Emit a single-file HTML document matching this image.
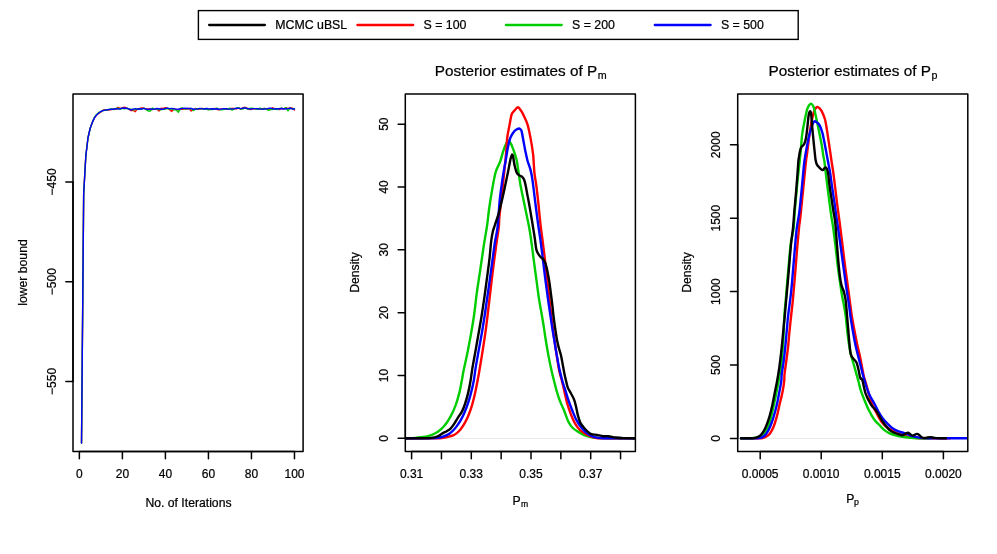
<!DOCTYPE html><html><head><meta charset="utf-8"><title>plot</title><style>html,body{margin:0;padding:0;background:#fff}svg{display:block;will-change:transform}text{font-family:'Liberation Sans',sans-serif;fill:#000;stroke:#000;stroke-width:0.22px}</style></head><body>
<svg width="997" height="554" viewBox="0 0 997 554">
<rect width="997" height="554" fill="#fff"/>
<rect x="198.4" y="10.6" width="599.8" height="28.8" fill="#fff" stroke="#000" stroke-width="1.4"/>
<line x1="209.1" y1="25" x2="264.9" y2="25" stroke="#000000" stroke-width="2.3" stroke-linecap="round"/>
<text x="275.2" y="29.4" font-size="12.35">MCMC uBSL</text>
<line x1="357.4" y1="25" x2="413.2" y2="25" stroke="#ff0000" stroke-width="2.3" stroke-linecap="round"/>
<text x="423.5" y="29.4" font-size="12.35">S = 100</text>
<line x1="505.9" y1="25" x2="561.7" y2="25" stroke="#00cd00" stroke-width="2.3" stroke-linecap="round"/>
<text x="572.0" y="29.4" font-size="12.35">S = 200</text>
<line x1="654.8" y1="25" x2="710.6" y2="25" stroke="#0000ff" stroke-width="2.3" stroke-linecap="round"/>
<text x="720.9" y="29.4" font-size="12.35">S = 500</text>
<g fill="none" stroke-width="1.4" stroke-linejoin="round" stroke-linecap="round">
<path d="M81.52,443.00L83.67,194.00L85.82,156.00L87.97,138.00L90.12,128.50L92.28,122.40L94.43,117.90L96.58,115.00L98.73,113.41L100.88,111.90L103.03,110.20L105.18,109.73L107.33,110.00L109.48,109.71L111.64,109.45L113.79,109.03L115.94,109.14L118.09,107.30L120.24,108.63L122.39,107.66L124.54,107.20L126.69,108.08L128.84,109.16L130.99,110.61L133.14,110.27L135.30,111.70L137.45,108.80L139.60,108.39L141.75,107.88L143.90,108.02L146.05,109.02L148.20,108.97L150.35,108.87L152.50,109.57L154.66,108.79L156.81,109.07L158.96,111.00L161.11,108.31L163.26,108.49L165.41,107.79L167.56,108.47L169.71,109.60L171.86,111.40L174.01,108.51L176.16,109.90L178.32,109.83L180.47,109.36L182.62,109.31L184.77,108.81L186.92,109.01L189.07,108.37L191.22,111.00L193.37,109.76L195.52,108.46L197.68,109.36L199.83,109.04L201.98,108.33L204.13,108.67L206.28,108.81L208.43,109.73L210.58,108.79L212.73,109.20L214.88,108.33L217.03,109.49L219.19,109.74L221.34,108.92L223.49,108.93L225.64,109.39L227.79,109.09L229.94,108.77L232.09,108.39L234.24,108.43L236.39,108.97L238.54,107.88L240.69,109.12L242.85,107.87L245.00,107.30L247.15,108.11L249.30,109.52L251.45,109.25L253.60,108.78L255.75,108.69L257.90,108.96L260.05,109.06L262.20,108.78L264.36,108.56L266.51,108.93L268.66,109.51L270.81,108.86L272.96,107.80L275.11,109.08L277.26,109.06L279.41,109.53L281.56,108.30L283.71,109.11L285.87,107.70L288.02,108.62L290.17,107.60L292.32,108.12L294.47,109.97" stroke="#ff0000"/>
<path d="M81.52,443.00L83.67,194.00L85.82,156.00L87.97,138.00L90.12,128.50L92.28,122.40L94.43,117.30L96.58,114.40L98.73,112.50L100.88,111.54L103.03,110.48L105.18,110.19L107.33,109.81L109.48,109.11L111.64,108.86L113.79,109.50L115.94,108.51L118.09,108.21L120.24,109.38L122.39,108.22L124.54,108.83L126.69,108.23L128.84,109.01L130.99,109.09L133.14,109.71L135.30,109.65L137.45,108.94L139.60,109.24L141.75,109.03L143.90,108.09L146.05,109.55L148.20,111.00L150.35,111.00L152.50,108.03L154.66,109.40L156.81,108.91L158.96,109.56L161.11,109.85L163.26,109.19L165.41,109.21L167.56,108.26L169.71,109.24L171.86,108.85L174.01,109.87L176.16,109.88L178.32,112.30L180.47,108.28L182.62,108.07L184.77,109.17L186.92,108.37L189.07,108.86L191.22,108.42L193.37,110.60L195.52,108.86L197.68,108.64L199.83,108.81L201.98,108.55L204.13,109.34L206.28,109.16L208.43,109.74L210.58,109.43L212.73,109.49L214.88,108.90L217.03,108.20L219.19,109.67L221.34,109.83L223.49,109.54L225.64,108.75L227.79,109.07L229.94,108.28L232.09,110.20L234.24,108.88L236.39,108.22L238.54,107.69L240.69,109.02L242.85,109.17L245.00,107.46L247.15,108.99L249.30,108.54L251.45,108.25L253.60,108.40L255.75,109.15L257.90,109.36L260.05,108.08L262.20,109.33L264.36,108.27L266.51,109.30L268.66,110.30L270.81,109.33L272.96,109.43L275.11,108.52L277.26,109.55L279.41,108.45L281.56,108.09L283.71,108.85L285.87,107.65L288.02,110.90L290.17,108.08L292.32,108.81L294.47,108.67" stroke="#00cd00"/>
<path d="M81.52,443.00L83.67,194.00L85.82,156.00L87.97,138.00L90.12,128.50L92.28,122.40L94.43,117.90L96.58,115.00L98.73,113.00L100.88,111.50L103.03,110.60L105.18,110.10L107.33,109.70L109.48,109.50L111.64,109.30L113.79,109.20L115.94,108.62L118.09,109.00L120.24,108.72L122.39,108.06L124.54,108.23L126.69,108.23L128.84,108.90L130.99,109.98L133.14,109.10L135.30,108.56L137.45,109.20L139.60,108.75L141.75,108.95L143.90,108.42L146.05,109.04L148.20,109.50L150.35,108.84L152.50,109.27L154.66,109.11L156.81,108.53L158.96,108.74L161.11,109.20L163.26,109.20L165.41,108.34L167.56,108.19L169.71,108.63L171.86,108.53L174.01,108.84L176.16,109.14L178.32,109.29L180.47,108.70L182.62,108.34L184.77,108.08L186.92,108.45L189.07,108.45L191.22,108.35L193.37,109.23L195.52,109.12L197.68,109.03L199.83,108.37L201.98,108.85L204.13,108.94L206.28,108.49L208.43,108.81L210.58,108.98L212.73,108.80L214.88,108.98L217.03,108.73L219.19,109.32L221.34,109.14L223.49,108.63L225.64,108.71L227.79,109.03L229.94,109.11L232.09,108.90L234.24,108.83L236.39,108.19L238.54,108.25L240.69,108.65L242.85,108.22L245.00,107.91L247.15,108.49L249.30,108.88L251.45,109.03L253.60,108.66L255.75,108.61L257.90,108.70L260.05,109.16L262.20,109.14L264.36,108.99L266.51,108.90L268.66,108.31L270.81,108.23L272.96,108.75L275.11,108.94L277.26,108.73L279.41,108.70L281.56,108.56L283.71,108.68L285.87,108.93L288.02,108.59L290.17,108.28L292.32,108.94L294.47,109.05" stroke="#0000ff"/>
</g>
<rect x="73.0" y="94.0" width="230.1" height="357.4" fill="none" stroke="#000" stroke-width="1.5" stroke-linejoin="round"/>
<path d="M79.37,451.40H294.47" stroke="#000" stroke-width="1.5" fill="none"/>
<path d="M79.37,451.40v7.4" stroke="#000" stroke-width="1.5" stroke-linecap="round" fill="none"/>
<path d="M122.39,451.40v7.4" stroke="#000" stroke-width="1.5" stroke-linecap="round" fill="none"/>
<path d="M165.41,451.40v7.4" stroke="#000" stroke-width="1.5" stroke-linecap="round" fill="none"/>
<path d="M208.43,451.40v7.4" stroke="#000" stroke-width="1.5" stroke-linecap="round" fill="none"/>
<path d="M251.45,451.40v7.4" stroke="#000" stroke-width="1.5" stroke-linecap="round" fill="none"/>
<path d="M294.47,451.40v7.4" stroke="#000" stroke-width="1.5" stroke-linecap="round" fill="none"/>
<text x="79.37" y="478.25" font-size="12" text-anchor="middle">0</text>
<text x="122.39" y="478.25" font-size="12" text-anchor="middle">20</text>
<text x="165.41" y="478.25" font-size="12" text-anchor="middle">40</text>
<text x="208.43" y="478.25" font-size="12" text-anchor="middle">60</text>
<text x="251.45" y="478.25" font-size="12" text-anchor="middle">80</text>
<text x="294.47" y="478.25" font-size="12" text-anchor="middle">100</text>
<path d="M73.00,181.95V381.46" stroke="#000" stroke-width="1.5" fill="none"/>
<path d="M73.00,181.95h-7.2" stroke="#000" stroke-width="1.5" stroke-linecap="round" fill="none"/>
<text transform="translate(55.80,181.95) rotate(-90)" font-size="12" text-anchor="middle">−450</text>
<path d="M73.00,281.70h-7.2" stroke="#000" stroke-width="1.5" stroke-linecap="round" fill="none"/>
<text transform="translate(55.80,281.70) rotate(-90)" font-size="12" text-anchor="middle">−500</text>
<path d="M73.00,381.46h-7.2" stroke="#000" stroke-width="1.5" stroke-linecap="round" fill="none"/>
<text transform="translate(55.80,381.46) rotate(-90)" font-size="12" text-anchor="middle">−550</text>
<text x="188.5" y="506.6" font-size="12.2" text-anchor="middle">No. of Iterations</text>
<text transform="translate(27,272.5) rotate(-90)" font-size="12.2" text-anchor="middle">lower bound</text>
<path d="M405.3,438.5H635.4" stroke="#d3d3d3" stroke-width="0.5" fill="none"/>
<clipPath id="cm"><rect x="405.3" y="94.0" width="230.1" height="357.4"/></clipPath>
<g fill="none" stroke-width="2.4" stroke-linejoin="round" stroke-linecap="round" clip-path="url(#cm)">
<path d="M405.50,438.30C407.12,438.23 411.90,438.15 415.20,437.90C418.50,437.65 422.57,437.30 425.30,436.80C428.03,436.30 429.50,435.73 431.60,434.90C433.70,434.07 435.80,433.27 437.90,431.80C440.00,430.33 442.10,428.63 444.20,426.10C446.30,423.57 448.60,420.07 450.50,416.60C452.40,413.13 454.12,409.30 455.60,405.30C457.08,401.30 458.35,396.82 459.40,392.60C460.45,388.38 461.20,383.67 461.90,380.00C462.60,376.33 462.68,375.12 463.60,370.60C464.52,366.08 466.13,359.22 467.40,352.90C468.67,346.58 470.08,339.02 471.20,332.70C472.32,326.38 473.15,321.75 474.10,315.00C475.05,308.25 475.88,299.65 476.90,292.20C477.92,284.75 479.08,277.87 480.20,270.30C481.32,262.73 482.47,254.18 483.60,246.80C484.73,239.42 486.12,232.05 487.00,226.00C487.88,219.95 488.27,215.18 488.90,210.50C489.53,205.82 490.05,202.53 490.80,197.90C491.55,193.27 492.55,187.12 493.40,182.70C494.25,178.28 494.77,174.93 495.90,171.40C497.03,167.87 498.95,164.97 500.20,161.50C501.45,158.03 502.40,153.60 503.40,150.60C504.40,147.60 505.37,145.18 506.20,143.50C507.03,141.82 507.67,140.55 508.40,140.50C509.13,140.45 509.87,141.93 510.60,143.20C511.33,144.47 512.00,146.03 512.80,148.10C513.60,150.17 514.70,153.28 515.40,155.60C516.10,157.92 516.47,159.17 517.00,162.00C517.53,164.83 518.02,168.72 518.60,172.60C519.18,176.48 519.75,181.08 520.50,185.30C521.25,189.52 522.15,193.27 523.10,197.90C524.05,202.53 525.20,208.25 526.20,213.10C527.20,217.95 528.23,222.22 529.10,227.00C529.97,231.78 530.58,235.98 531.40,241.80C532.22,247.62 533.15,255.47 534.00,261.90C534.85,268.33 535.67,274.23 536.50,280.40C537.33,286.57 538.08,292.97 539.00,298.90C539.92,304.83 541.18,311.22 542.00,316.00C542.82,320.78 543.27,323.55 543.90,327.60C544.53,331.65 545.05,335.67 545.80,340.30C546.55,344.93 547.45,350.35 548.40,355.40C549.35,360.45 550.53,366.25 551.50,370.60C552.47,374.95 553.38,378.25 554.20,381.50C555.02,384.75 555.50,386.98 556.40,390.10C557.30,393.22 558.33,396.83 559.60,400.20C560.87,403.57 562.53,406.72 564.00,410.30C565.47,413.88 566.93,418.75 568.40,421.70C569.87,424.65 571.00,426.22 572.80,428.00C574.60,429.78 577.08,431.13 579.20,432.40C581.32,433.67 583.18,434.75 585.50,435.60C587.82,436.45 590.58,437.08 593.10,437.50C595.62,437.92 596.95,437.97 600.60,438.10C604.25,438.23 609.18,438.27 615.00,438.30C620.82,438.33 632.08,438.30 635.50,438.30" stroke="#00cd00"/>
<path d="M405.50,438.30C410.48,438.30 429.17,438.37 435.40,438.30C441.63,438.23 440.80,438.15 442.90,437.90C445.00,437.65 446.30,437.23 448.00,436.80C449.70,436.37 451.63,435.92 453.10,435.30C454.57,434.68 455.55,434.10 456.80,433.10C458.05,432.10 459.33,430.88 460.60,429.30C461.87,427.72 463.13,425.82 464.40,423.60C465.67,421.38 466.93,419.05 468.20,416.00C469.47,412.95 470.83,409.20 472.00,405.30C473.17,401.40 474.28,396.65 475.20,392.60C476.12,388.55 476.80,384.67 477.50,381.00C478.20,377.33 478.57,375.50 479.40,370.60C480.23,365.70 481.50,357.92 482.50,351.60C483.50,345.28 484.57,338.63 485.40,332.70C486.23,326.77 486.68,322.75 487.50,316.00C488.32,309.25 489.33,300.37 490.30,292.20C491.27,284.03 492.32,274.85 493.30,267.00C494.28,259.15 495.28,251.77 496.20,245.10C497.12,238.43 498.28,231.52 498.80,227.00C499.32,222.48 498.83,223.00 499.30,218.00C499.77,213.00 500.88,203.67 501.60,197.00C502.32,190.33 502.95,184.17 503.60,178.00C504.25,171.83 505.05,164.67 505.50,160.00C505.95,155.33 506.02,153.68 506.30,150.00C506.58,146.32 506.63,142.22 507.20,137.90C507.77,133.58 508.97,128.00 509.70,124.10C510.43,120.20 510.80,116.77 511.60,114.50C512.40,112.23 513.45,111.70 514.50,110.50C515.55,109.30 516.90,107.38 517.90,107.30C518.90,107.22 519.67,108.90 520.50,110.00C521.33,111.10 521.75,111.55 522.90,113.90C524.05,116.25 526.13,120.10 527.40,124.10C528.67,128.10 529.55,132.85 530.50,137.90C531.45,142.95 532.45,148.62 533.10,154.40C533.75,160.18 533.87,167.45 534.40,172.60C534.93,177.75 535.67,180.45 536.30,185.30C536.93,190.15 537.63,196.45 538.20,201.70C538.77,206.95 539.25,212.42 539.70,216.80C540.15,221.18 540.47,224.40 540.90,228.00C541.33,231.60 541.72,233.87 542.30,238.40C542.88,242.93 543.70,249.32 544.40,255.20C545.10,261.08 545.80,267.53 546.50,273.70C547.20,279.87 547.80,285.15 548.60,292.20C549.40,299.25 550.47,309.03 551.30,316.00C552.13,322.97 552.78,328.00 553.60,334.00C554.42,340.00 555.27,345.90 556.20,352.00C557.13,358.10 558.28,365.93 559.20,370.60C560.12,375.27 560.83,376.53 561.70,380.00C562.57,383.47 563.52,387.62 564.40,391.40C565.28,395.18 565.93,398.92 567.00,402.70C568.07,406.48 569.45,410.62 570.80,414.10C572.15,417.58 573.50,420.87 575.10,423.60C576.70,426.33 578.47,428.67 580.40,430.50C582.33,432.33 584.38,433.43 586.70,434.60C589.02,435.77 591.55,436.88 594.30,437.50C597.05,438.12 596.33,438.17 603.20,438.30C610.07,438.43 630.12,438.30 635.50,438.30" stroke="#ff0000"/>
<path d="M405.50,438.30C408.80,438.30 419.90,438.40 425.30,438.30C430.70,438.20 434.75,438.05 437.90,437.70C441.05,437.35 442.30,436.87 444.20,436.20C446.10,435.53 447.82,434.65 449.30,433.70C450.78,432.75 451.85,431.77 453.10,430.50C454.35,429.23 455.55,427.78 456.80,426.10C458.05,424.42 459.33,422.62 460.60,420.40C461.87,418.18 463.13,415.75 464.40,412.80C465.67,409.85 467.03,406.27 468.20,402.70C469.37,399.13 470.45,395.18 471.40,391.40C472.35,387.62 473.20,383.88 473.90,380.00C474.60,376.12 474.80,373.03 475.60,368.10C476.40,363.17 477.65,356.30 478.70,350.40C479.75,344.50 480.92,338.43 481.90,332.70C482.88,326.97 483.90,320.52 484.60,316.00C485.30,311.48 485.37,310.70 486.10,305.60C486.83,300.50 488.02,292.40 489.00,285.40C489.98,278.40 491.00,270.87 492.00,263.60C493.00,256.33 494.07,247.90 495.00,241.80C495.93,235.70 496.82,233.90 497.60,227.00C498.38,220.10 499.03,207.35 499.70,200.40C500.37,193.45 500.97,189.93 501.60,185.30C502.23,180.67 502.83,176.65 503.50,172.60C504.17,168.55 504.88,165.08 505.60,161.00C506.32,156.92 507.02,151.95 507.80,148.10C508.58,144.25 509.25,140.65 510.30,137.90C511.35,135.15 512.98,133.03 514.10,131.60C515.22,130.17 516.15,129.82 517.00,129.30C517.85,128.78 518.60,128.47 519.20,128.50C519.80,128.53 520.18,128.98 520.60,129.50C521.02,130.02 521.20,129.57 521.70,131.60C522.20,133.63 522.97,138.33 523.60,141.70C524.23,145.07 524.83,148.58 525.50,151.80C526.17,155.02 526.75,157.95 527.60,161.00C528.45,164.05 529.78,166.90 530.60,170.10C531.42,173.30 531.87,175.98 532.50,180.20C533.13,184.42 533.77,190.35 534.40,195.40C535.03,200.45 535.62,205.23 536.30,210.50C536.98,215.77 537.77,221.78 538.50,227.00C539.23,232.22 539.92,235.98 540.70,241.80C541.48,247.62 542.37,255.18 543.20,261.90C544.03,268.62 544.87,275.65 545.70,282.10C546.53,288.55 547.40,294.95 548.20,300.60C549.00,306.25 549.83,311.50 550.50,316.00C551.17,320.50 551.57,323.55 552.20,327.60C552.83,331.65 553.53,335.67 554.30,340.30C555.07,344.93 555.90,350.35 556.80,355.40C557.70,360.45 558.75,366.25 559.70,370.60C560.65,374.95 561.57,378.25 562.50,381.50C563.43,384.75 564.32,386.98 565.30,390.10C566.28,393.22 567.25,396.83 568.40,400.20C569.55,403.57 570.83,406.93 572.20,410.30C573.57,413.67 575.02,417.45 576.60,420.40C578.18,423.35 580.02,425.88 581.70,428.00C583.38,430.12 584.80,431.67 586.70,433.10C588.60,434.53 590.78,435.77 593.10,436.60C595.42,437.43 596.95,437.82 600.60,438.10C604.25,438.38 609.18,438.27 615.00,438.30C620.82,438.33 632.08,438.30 635.50,438.30" stroke="#0000ff"/>
<path d="M405.50,438.30C407.73,438.30 414.55,438.37 418.90,438.30C423.25,438.23 428.43,438.25 431.60,437.90C434.77,437.55 436.02,437.00 437.90,436.20C439.78,435.40 441.43,433.93 442.90,433.10C444.37,432.27 445.43,431.95 446.70,431.20C447.97,430.45 449.23,429.87 450.50,428.60C451.77,427.33 453.03,425.48 454.30,423.60C455.57,421.72 456.83,419.30 458.10,417.30C459.37,415.30 460.75,413.82 461.90,411.60C463.05,409.38 463.95,407.17 465.00,404.00C466.05,400.83 467.28,396.43 468.20,392.60C469.12,388.77 469.80,385.08 470.50,381.00C471.20,376.92 471.55,373.20 472.40,368.10C473.25,363.00 474.55,356.30 475.60,350.40C476.65,344.50 477.70,338.43 478.70,332.70C479.70,326.97 480.65,321.92 481.60,316.00C482.55,310.08 483.52,303.42 484.40,297.20C485.28,290.98 486.05,285.13 486.90,278.70C487.75,272.27 488.80,264.75 489.50,258.60C490.20,252.45 490.55,246.28 491.10,241.80C491.65,237.32 492.22,234.33 492.80,231.70C493.38,229.07 494.08,227.63 494.60,226.00C495.12,224.37 495.27,223.85 495.90,221.90C496.53,219.95 497.45,217.67 498.40,214.30C499.35,210.93 500.55,206.12 501.60,201.70C502.65,197.28 503.65,192.65 504.70,187.80C505.75,182.95 507.00,177.07 507.90,172.60C508.80,168.13 509.52,163.77 510.10,161.00C510.68,158.23 511.05,157.10 511.40,156.00C511.75,154.90 511.93,154.40 512.20,154.40C512.47,154.40 512.73,154.90 513.00,156.00C513.27,157.10 513.50,159.28 513.80,161.00C514.10,162.72 514.32,164.37 514.80,166.30C515.28,168.23 515.95,171.08 516.70,172.60C517.45,174.12 518.35,174.65 519.30,175.40C520.25,176.15 521.57,176.30 522.40,177.10C523.23,177.90 523.77,178.83 524.30,180.20C524.83,181.57 525.07,182.77 525.60,185.30C526.13,187.83 526.87,192.03 527.50,195.40C528.13,198.77 528.77,201.93 529.40,205.50C530.03,209.07 530.70,213.22 531.30,216.80C531.90,220.38 532.42,223.40 533.00,227.00C533.58,230.60 534.22,234.53 534.80,238.40C535.38,242.27 535.67,247.25 536.50,250.20C537.33,253.15 538.55,254.42 539.80,256.10C541.05,257.78 542.88,258.48 544.00,260.30C545.12,262.12 545.65,263.65 546.50,267.00C547.35,270.35 548.40,276.20 549.10,280.40C549.80,284.60 550.15,288.00 550.70,292.20C551.25,296.40 551.93,301.63 552.40,305.60C552.87,309.57 553.12,312.75 553.50,316.00C553.88,319.25 554.18,321.48 554.70,325.10C555.22,328.72 555.97,334.12 556.60,337.70C557.23,341.28 557.77,343.65 558.50,346.60C559.23,349.55 560.27,352.25 561.00,355.40C561.73,358.55 562.27,362.13 562.90,365.50C563.53,368.87 564.25,372.93 564.80,375.60C565.35,378.27 565.70,379.50 566.20,381.50C566.70,383.50 567.02,385.63 567.80,387.60C568.58,389.57 569.85,391.30 570.90,393.30C571.95,395.30 573.25,397.40 574.10,399.60C574.95,401.80 575.37,403.87 576.00,406.50C576.63,409.13 577.17,412.67 577.90,415.40C578.63,418.13 579.35,420.80 580.40,422.90C581.45,425.00 582.52,426.20 584.20,428.00C585.88,429.80 588.40,432.55 590.50,433.70C592.60,434.85 594.68,434.48 596.80,434.90C598.92,435.32 601.30,435.98 603.20,436.20C605.10,436.42 606.10,435.98 608.20,436.20C610.30,436.42 613.27,437.18 615.80,437.50C618.33,437.82 620.12,437.98 623.40,438.10C626.68,438.22 633.48,438.18 635.50,438.20" stroke="#000000"/>
</g>
<rect x="405.3" y="94.0" width="230.1" height="357.4" fill="none" stroke="#000" stroke-width="1.5" stroke-linejoin="round"/>
<path d="M411.60,451.40H620.55" stroke="#000" stroke-width="1.5" fill="none"/>
<path d="M411.60,451.40v7.4" stroke="#000" stroke-width="1.5" stroke-linecap="round" fill="none"/>
<path d="M441.45,451.40v7.4" stroke="#000" stroke-width="1.5" stroke-linecap="round" fill="none"/>
<path d="M471.30,451.40v7.4" stroke="#000" stroke-width="1.5" stroke-linecap="round" fill="none"/>
<path d="M501.15,451.40v7.4" stroke="#000" stroke-width="1.5" stroke-linecap="round" fill="none"/>
<path d="M531.00,451.40v7.4" stroke="#000" stroke-width="1.5" stroke-linecap="round" fill="none"/>
<path d="M560.85,451.40v7.4" stroke="#000" stroke-width="1.5" stroke-linecap="round" fill="none"/>
<path d="M590.70,451.40v7.4" stroke="#000" stroke-width="1.5" stroke-linecap="round" fill="none"/>
<path d="M620.55,451.40v7.4" stroke="#000" stroke-width="1.5" stroke-linecap="round" fill="none"/>
<text x="411.60" y="478.25" font-size="12" text-anchor="middle">0.31</text>
<text x="471.30" y="478.25" font-size="12" text-anchor="middle">0.33</text>
<text x="531.00" y="478.25" font-size="12" text-anchor="middle">0.35</text>
<text x="590.70" y="478.25" font-size="12" text-anchor="middle">0.37</text>
<path d="M405.33,124.20V438.35" stroke="#000" stroke-width="1.5" fill="none"/>
<path d="M405.33,438.35h-7.2" stroke="#000" stroke-width="1.5" stroke-linecap="round" fill="none"/>
<text transform="translate(388.13,438.35) rotate(-90)" font-size="12" text-anchor="middle">0</text>
<path d="M405.33,375.52h-7.2" stroke="#000" stroke-width="1.5" stroke-linecap="round" fill="none"/>
<text transform="translate(388.13,375.52) rotate(-90)" font-size="12" text-anchor="middle">10</text>
<path d="M405.33,312.69h-7.2" stroke="#000" stroke-width="1.5" stroke-linecap="round" fill="none"/>
<text transform="translate(388.13,312.69) rotate(-90)" font-size="12" text-anchor="middle">20</text>
<path d="M405.33,249.86h-7.2" stroke="#000" stroke-width="1.5" stroke-linecap="round" fill="none"/>
<text transform="translate(388.13,249.86) rotate(-90)" font-size="12" text-anchor="middle">30</text>
<path d="M405.33,187.03h-7.2" stroke="#000" stroke-width="1.5" stroke-linecap="round" fill="none"/>
<text transform="translate(388.13,187.03) rotate(-90)" font-size="12" text-anchor="middle">40</text>
<path d="M405.33,124.20h-7.2" stroke="#000" stroke-width="1.5" stroke-linecap="round" fill="none"/>
<text transform="translate(388.13,124.20) rotate(-90)" font-size="12" text-anchor="middle">50</text>
<text x="520.7" y="76.3" font-size="15.3" text-anchor="middle">Posterior estimates of P<tspan font-size="10.7" dy="3" dx="0.5">m</tspan></text>
<text x="520.3" y="504.6" font-size="12.2" text-anchor="middle">P<tspan font-size="8.6" dy="2.1" dx="0.4">m</tspan></text>
<text transform="translate(359,272.5) rotate(-90)" font-size="12.2" text-anchor="middle">Density</text>
<path d="M737.7,438.5H967.7" stroke="#d3d3d3" stroke-width="0.5" fill="none"/>
<clipPath id="cr"><rect x="737.7" y="94.0" width="230.1" height="357.4"/></clipPath>
<g fill="none" stroke-width="2.4" stroke-linejoin="round" stroke-linecap="round" clip-path="url(#cr)">
<path d="M741.00,438.30C743.33,438.30 751.58,438.32 755.00,438.30C758.42,438.28 759.67,438.45 761.50,438.20C763.33,437.95 764.62,437.55 766.00,436.80C767.38,436.05 768.53,435.38 769.80,433.70C771.07,432.02 772.43,429.55 773.60,426.70C774.77,423.85 775.83,420.17 776.80,416.60C777.77,413.03 778.47,409.30 779.40,405.30C780.33,401.30 781.60,396.65 782.40,392.60C783.20,388.55 783.85,384.03 784.20,381.00C784.55,377.97 784.17,377.62 784.50,374.40C784.83,371.18 785.60,366.33 786.20,361.70C786.80,357.07 787.53,351.85 788.10,346.60C788.67,341.35 789.10,335.30 789.60,330.20C790.10,325.10 790.57,320.93 791.10,316.00C791.63,311.07 792.15,307.37 792.80,300.60C793.45,293.83 794.30,283.80 795.00,275.40C795.70,267.00 796.33,258.10 797.00,250.20C797.67,242.30 798.43,233.57 799.00,228.00C799.57,222.43 799.85,221.82 800.40,216.80C800.95,211.78 801.67,204.22 802.30,197.90C802.93,191.58 803.60,184.88 804.20,178.90C804.80,172.92 805.38,166.52 805.90,162.00C806.42,157.48 806.75,156.02 807.30,151.80C807.85,147.58 808.57,141.32 809.20,136.70C809.83,132.08 810.37,128.10 811.10,124.10C811.83,120.10 812.87,115.30 813.60,112.70C814.33,110.10 814.87,109.45 815.50,108.50C816.13,107.55 816.72,107.03 817.40,107.00C818.08,106.97 818.87,107.57 819.60,108.30C820.33,109.03 820.92,109.62 821.80,111.40C822.68,113.18 824.07,116.05 824.90,119.00C825.73,121.95 826.17,125.32 826.80,129.10C827.43,132.88 828.10,137.70 828.70,141.70C829.30,145.70 829.88,149.55 830.40,153.10C830.92,156.65 831.32,159.75 831.80,163.00C832.28,166.25 832.73,168.47 833.30,172.60C833.87,176.73 834.58,182.75 835.20,187.80C835.82,192.85 836.38,198.07 837.00,202.90C837.62,207.73 838.37,212.78 838.90,216.80C839.43,220.82 839.57,222.00 840.20,227.00C840.83,232.00 841.83,239.85 842.70,246.80C843.57,253.75 844.48,261.70 845.40,268.70C846.32,275.70 847.37,282.65 848.20,288.80C849.03,294.95 849.80,301.07 850.40,305.60C851.00,310.13 851.22,312.33 851.80,316.00C852.38,319.67 853.02,322.92 853.90,327.60C854.78,332.28 856.03,339.05 857.10,344.10C858.17,349.15 859.25,352.85 860.30,357.90C861.35,362.95 862.55,370.47 863.40,374.40C864.25,378.33 864.55,378.47 865.40,381.50C866.25,384.53 867.50,389.07 868.50,392.60C869.50,396.13 870.15,399.47 871.40,402.70C872.65,405.93 874.40,408.93 876.00,412.00C877.60,415.07 879.33,418.68 881.00,421.10C882.67,423.52 883.80,424.72 886.00,426.50C888.20,428.28 891.35,430.33 894.20,431.80C897.05,433.27 900.37,434.42 903.10,435.30C905.83,436.18 907.67,436.60 910.60,437.10C913.53,437.60 914.13,438.10 920.70,438.30C927.27,438.50 945.12,438.30 950.00,438.30" stroke="#ff0000"/>
<path d="M741.00,438.30C742.95,438.27 749.78,438.35 752.70,438.10C755.62,437.85 756.58,437.63 758.50,436.80C760.42,435.97 762.52,434.98 764.20,433.10C765.88,431.22 767.23,429.08 768.60,425.50C769.97,421.92 771.23,416.45 772.40,411.60C773.57,406.75 774.57,401.50 775.60,396.40C776.63,391.30 777.70,386.07 778.60,381.00C779.50,375.93 780.33,371.17 781.00,366.00C781.67,360.83 782.17,355.33 782.60,350.00C783.03,344.67 783.32,339.67 783.60,334.00C783.88,328.33 783.95,321.57 784.30,316.00C784.65,310.43 785.22,306.25 785.70,300.60C786.18,294.95 786.65,288.55 787.20,282.10C787.75,275.65 788.40,268.33 789.00,261.90C789.60,255.47 790.03,249.15 790.80,243.50C791.57,237.85 792.95,233.25 793.60,228.00C794.25,222.75 794.23,217.83 794.70,212.00C795.17,206.17 795.85,198.93 796.40,193.00C796.95,187.07 797.43,181.90 798.00,176.40C798.57,170.90 799.33,164.40 799.80,160.00C800.27,155.60 800.40,154.30 800.80,150.00C801.20,145.70 801.55,139.15 802.20,134.20C802.85,129.25 803.85,124.52 804.70,120.30C805.55,116.08 806.53,111.45 807.30,108.90C808.07,106.35 808.67,105.88 809.30,105.00C809.93,104.12 810.52,103.55 811.10,103.60C811.68,103.65 812.28,104.42 812.80,105.30C813.32,106.18 813.55,106.40 814.20,108.90C814.85,111.40 815.85,116.30 816.70,120.30C817.55,124.30 818.45,128.70 819.30,132.90C820.15,137.10 821.13,141.72 821.80,145.50C822.47,149.28 822.85,152.85 823.30,155.60C823.75,158.35 824.10,159.17 824.50,162.00C824.90,164.83 825.18,168.30 825.70,172.60C826.22,176.90 826.97,182.75 827.60,187.80C828.23,192.85 828.87,198.07 829.50,202.90C830.13,207.73 830.80,212.78 831.40,216.80C832.00,220.82 832.40,222.00 833.10,227.00C833.80,232.00 834.77,239.85 835.60,246.80C836.43,253.75 837.12,261.13 838.10,268.70C839.08,276.27 840.52,286.05 841.50,292.20C842.48,298.35 843.30,301.63 844.00,305.60C844.70,309.57 845.10,311.27 845.70,316.00C846.30,320.73 846.85,328.07 847.60,334.00C848.35,339.93 849.25,346.77 850.20,351.60C851.15,356.43 852.37,359.63 853.30,363.00C854.23,366.37 854.93,368.72 855.80,371.80C856.67,374.88 857.68,378.45 858.50,381.50C859.32,384.55 859.70,386.98 860.70,390.10C861.70,393.22 863.13,396.83 864.50,400.20C865.87,403.57 867.32,407.13 868.90,410.30C870.48,413.47 872.30,416.78 874.00,419.20C875.70,421.62 877.42,423.02 879.10,424.80C880.78,426.58 882.42,428.52 884.10,429.90C885.78,431.28 887.30,432.20 889.20,433.10C891.10,434.00 893.18,434.68 895.50,435.30C897.82,435.92 900.58,436.37 903.10,436.80C905.62,437.23 907.87,437.65 910.60,437.90C913.33,438.15 916.27,438.23 919.50,438.30C922.73,438.37 928.25,438.30 930.00,438.30" stroke="#00cd00"/>
<path d="M741.00,438.30C742.50,438.30 747.22,438.32 750.00,438.30C752.78,438.28 755.62,438.40 757.70,438.20C759.78,438.00 761.07,437.85 762.50,437.10C763.93,436.35 765.03,435.43 766.30,433.70C767.57,431.97 768.93,429.33 770.10,426.70C771.27,424.07 772.20,421.47 773.30,417.90C774.40,414.33 775.72,409.52 776.70,405.30C777.68,401.08 778.43,396.65 779.20,392.60C779.97,388.55 780.88,384.03 781.30,381.00C781.72,377.97 781.32,377.62 781.70,374.40C782.08,371.18 783.00,366.33 783.60,361.70C784.20,357.07 784.77,351.85 785.30,346.60C785.83,341.35 786.33,335.30 786.80,330.20C787.27,325.10 787.38,322.33 788.10,316.00C788.82,309.67 790.23,300.37 791.10,292.20C791.97,284.03 792.65,274.57 793.30,267.00C793.95,259.43 794.42,253.30 795.00,246.80C795.58,240.30 796.10,233.62 796.80,228.00C797.50,222.38 798.48,218.53 799.20,213.10C799.92,207.67 800.48,201.52 801.10,195.40C801.72,189.28 802.37,181.97 802.90,176.40C803.43,170.83 803.68,166.72 804.30,162.00C804.92,157.28 805.78,152.53 806.60,148.10C807.42,143.67 808.35,138.98 809.20,135.40C810.05,131.82 811.02,128.73 811.70,126.60C812.38,124.47 812.78,123.48 813.30,122.60C813.82,121.72 814.12,121.27 814.80,121.30C815.48,121.33 816.55,122.03 817.40,122.80C818.25,123.57 819.07,124.22 819.90,125.90C820.73,127.58 821.67,130.27 822.40,132.90C823.13,135.53 823.67,138.55 824.30,141.70C824.93,144.85 825.57,148.42 826.20,151.80C826.83,155.18 827.45,158.53 828.10,162.00C828.75,165.47 829.42,168.30 830.10,172.60C830.78,176.90 831.47,182.75 832.20,187.80C832.93,192.85 833.80,198.07 834.50,202.90C835.20,207.73 835.83,212.78 836.40,216.80C836.97,220.82 837.18,222.00 837.90,227.00C838.62,232.00 839.73,239.85 840.70,246.80C841.67,253.75 842.73,261.70 843.70,268.70C844.67,275.70 845.60,282.65 846.50,288.80C847.40,294.95 848.45,301.07 849.10,305.60C849.75,310.13 849.80,311.90 850.40,316.00C851.00,320.10 851.80,325.10 852.70,330.20C853.60,335.30 854.65,341.35 855.80,346.60C856.95,351.85 858.43,357.07 859.60,361.70C860.77,366.33 861.95,371.18 862.80,374.40C863.65,377.62 863.98,378.60 864.70,381.00C865.42,383.40 866.18,386.23 867.10,388.80C868.02,391.37 868.95,393.87 870.20,396.40C871.45,398.93 873.23,401.47 874.60,404.00C875.97,406.53 877.03,409.18 878.40,411.60C879.77,414.02 881.22,416.40 882.80,418.50C884.38,420.60 886.22,422.52 887.90,424.20C889.58,425.88 891.22,427.43 892.90,428.60C894.58,429.77 896.10,430.45 898.00,431.20C899.90,431.95 902.20,432.37 904.30,433.10C906.40,433.83 908.50,434.93 910.60,435.60C912.70,436.27 914.78,436.68 916.90,437.10C919.02,437.52 919.45,437.90 923.30,438.10C927.15,438.30 932.63,438.27 940.00,438.30C947.37,438.33 962.92,438.30 967.50,438.30" stroke="#0000ff"/>
<path d="M741.00,438.30C742.95,438.28 749.92,438.40 752.70,438.20C755.48,438.00 756.23,437.75 757.70,437.10C759.17,436.45 760.23,435.82 761.50,434.30C762.77,432.78 764.03,430.73 765.30,428.00C766.57,425.27 767.93,421.68 769.10,417.90C770.27,414.12 771.35,409.52 772.30,405.30C773.25,401.08 774.00,396.65 774.80,392.60C775.60,388.55 776.37,385.08 777.10,381.00C777.83,376.92 778.53,372.78 779.20,368.10C779.87,363.42 780.57,357.53 781.10,352.90C781.63,348.27 781.98,344.52 782.40,340.30C782.82,336.08 783.20,331.65 783.60,327.60C784.00,323.55 784.38,320.50 784.80,316.00C785.22,311.50 785.60,306.25 786.10,300.60C786.60,294.95 787.23,288.55 787.80,282.10C788.37,275.65 788.95,268.33 789.50,261.90C790.05,255.47 790.52,249.15 791.10,243.50C791.68,237.85 792.45,233.50 793.00,228.00C793.55,222.50 793.90,216.37 794.40,210.50C794.90,204.63 795.52,198.48 796.00,192.80C796.48,187.12 796.92,181.53 797.30,176.40C797.68,171.27 798.05,165.03 798.30,162.00C798.55,158.97 798.50,160.10 798.80,158.20C799.10,156.30 799.63,152.50 800.10,150.60C800.57,148.70 800.93,147.85 801.60,146.80C802.27,145.75 803.37,145.78 804.10,144.30C804.83,142.82 805.47,140.65 806.00,137.90C806.53,135.15 806.88,131.37 807.30,127.80C807.72,124.23 808.15,119.08 808.50,116.50C808.85,113.92 809.12,113.18 809.40,112.30C809.68,111.42 809.95,111.17 810.20,111.20C810.45,111.23 810.70,111.62 810.90,112.50C811.10,113.38 811.17,113.95 811.40,116.50C811.63,119.05 811.93,123.60 812.30,127.80C812.67,132.00 813.18,137.48 813.60,141.70C814.02,145.92 814.47,150.05 814.80,153.10C815.13,156.15 815.27,158.12 815.60,160.00C815.93,161.88 816.17,163.13 816.80,164.40C817.43,165.67 818.45,166.65 819.40,167.60C820.35,168.55 821.55,170.10 822.50,170.10C823.45,170.10 824.37,167.82 825.10,167.60C825.83,167.38 826.38,167.75 826.90,168.80C827.42,169.85 827.77,171.15 828.20,173.90C828.63,176.65 828.97,181.30 829.50,185.30C830.03,189.30 830.77,193.70 831.40,197.90C832.03,202.10 832.67,206.48 833.30,210.50C833.93,214.52 834.67,217.35 835.20,222.00C835.73,226.65 836.02,232.30 836.50,238.40C836.98,244.50 837.55,252.43 838.10,258.60C838.65,264.77 839.23,270.93 839.80,275.40C840.37,279.87 840.80,282.60 841.50,285.40C842.20,288.20 843.30,289.67 844.00,292.20C844.70,294.73 845.20,296.80 845.70,300.60C846.20,304.40 846.57,310.07 847.00,315.00C847.43,319.93 847.88,325.35 848.30,330.20C848.72,335.05 849.08,340.10 849.50,344.10C849.92,348.10 850.17,351.78 850.80,354.20C851.43,356.62 852.35,357.23 853.30,358.60C854.25,359.97 855.65,360.62 856.50,362.40C857.35,364.18 857.77,366.67 858.40,369.30C859.03,371.93 859.80,376.67 860.30,378.20C860.80,379.73 861.02,378.03 861.40,378.50C861.78,378.97 861.87,378.40 862.60,381.00C863.33,383.60 864.37,390.12 865.80,394.10C867.23,398.08 869.40,402.02 871.20,404.90C873.00,407.78 874.62,408.52 876.60,411.40C878.58,414.28 880.75,418.95 883.10,422.20C885.45,425.45 888.17,428.92 890.70,430.90C893.23,432.88 896.35,433.38 898.30,434.10C900.25,434.82 901.18,435.27 902.40,435.20C903.62,435.13 904.68,434.10 905.60,433.70C906.52,433.30 907.17,432.73 907.90,432.80C908.63,432.87 909.23,433.63 910.00,434.10C910.77,434.57 911.67,435.52 912.50,435.60C913.33,435.68 914.27,434.88 915.00,434.60C915.73,434.32 916.20,433.85 916.90,433.90C917.60,433.95 918.35,434.30 919.20,434.90C920.05,435.50 920.90,437.00 922.00,437.50C923.10,438.00 924.43,437.97 925.80,437.90C927.17,437.83 928.73,437.10 930.20,437.10C931.67,437.10 932.82,437.72 934.60,437.90C936.38,438.08 939.00,438.15 940.90,438.20C942.80,438.25 945.15,438.20 946.00,438.20" stroke="#000000"/>
</g>
<rect x="737.7" y="94.0" width="230.1" height="357.4" fill="none" stroke="#000" stroke-width="1.5" stroke-linejoin="round"/>
<path d="M760.20,451.40H943.40" stroke="#000" stroke-width="1.5" fill="none"/>
<path d="M760.20,451.40v7.4" stroke="#000" stroke-width="1.5" stroke-linecap="round" fill="none"/>
<path d="M821.20,451.40v7.4" stroke="#000" stroke-width="1.5" stroke-linecap="round" fill="none"/>
<path d="M882.30,451.40v7.4" stroke="#000" stroke-width="1.5" stroke-linecap="round" fill="none"/>
<path d="M943.40,451.40v7.4" stroke="#000" stroke-width="1.5" stroke-linecap="round" fill="none"/>
<text x="760.20" y="478.25" font-size="12" text-anchor="middle">0.0005</text>
<text x="821.20" y="478.25" font-size="12" text-anchor="middle">0.0010</text>
<text x="882.30" y="478.25" font-size="12" text-anchor="middle">0.0015</text>
<text x="943.40" y="478.25" font-size="12" text-anchor="middle">0.0020</text>
<path d="M737.67,144.80V438.40" stroke="#000" stroke-width="1.5" fill="none"/>
<path d="M737.67,438.40h-7.2" stroke="#000" stroke-width="1.5" stroke-linecap="round" fill="none"/>
<text transform="translate(720.47,438.40) rotate(-90)" font-size="12" text-anchor="middle">0</text>
<path d="M737.67,365.00h-7.2" stroke="#000" stroke-width="1.5" stroke-linecap="round" fill="none"/>
<text transform="translate(720.47,365.00) rotate(-90)" font-size="12" text-anchor="middle">500</text>
<path d="M737.67,291.60h-7.2" stroke="#000" stroke-width="1.5" stroke-linecap="round" fill="none"/>
<text transform="translate(720.47,291.60) rotate(-90)" font-size="12" text-anchor="middle">1000</text>
<path d="M737.67,218.20h-7.2" stroke="#000" stroke-width="1.5" stroke-linecap="round" fill="none"/>
<text transform="translate(720.47,218.20) rotate(-90)" font-size="12" text-anchor="middle">1500</text>
<path d="M737.67,144.80h-7.2" stroke="#000" stroke-width="1.5" stroke-linecap="round" fill="none"/>
<text transform="translate(720.47,144.80) rotate(-90)" font-size="12" text-anchor="middle">2000</text>
<text x="853.0" y="75.6" font-size="15.3" text-anchor="middle">Posterior estimates of P<tspan font-size="10.7" dy="3" dx="0.5">p</tspan></text>
<text x="852.5" y="503.2" font-size="12.2" text-anchor="middle">P<tspan font-size="8.8" dy="1.4" dx="-0.3">p</tspan></text>
<text transform="translate(691,272.5) rotate(-90)" font-size="12.2" text-anchor="middle">Density</text>
</svg></body></html>
